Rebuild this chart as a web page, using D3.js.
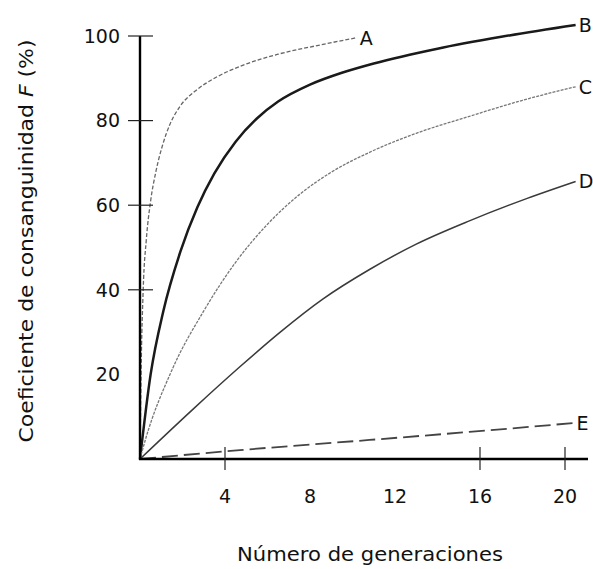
<!DOCTYPE html>
<html>
<head>
<meta charset="utf-8">
<script src="https://cdn.jsdelivr.net/npm/d3@7"></script>
<style>
  html, body { margin: 0; padding: 0; background: #fff; }
  svg text { font-family: "DejaVu Sans", sans-serif; fill: #111; }
</style>
</head>
<body>
<svg id="chart" width="593" height="569"></svg>
<script>
// ---- data: [generation, F %] ----
const seriesA = [[0,0],[0.05,20],[0.15,40],[0.3,52],[0.5,61],[0.75,68],[1.05,74],[1.4,79],[1.9,83.5],[2.6,87],[3.5,90],[4.8,93],[6.5,95.7],[8.5,97.9],[10.2,99.6]];
const seriesB = [[0,0],[0.5,20],[1.1,35],[1.9,49],[2.7,59.5],[3.5,67.5],[4.5,75],[5.5,80.5],[6.5,84.5],[8,88.5],[9.5,91.3],[11,93.5],[14,97],[17,99.8],[20.5,102.6]];
const seriesC = [[0,0],[0.25,4.5],[1.5,21],[3,35],[4.5,46.5],[6,55.5],[7.5,62.5],[9,67.8],[10.8,72.5],[13,77],[15.5,81],[18,84.8],[20.5,88]];
const seriesD = [[0,0],[2.5,11.8],[4.7,21.8],[6.6,30],[8.6,37.8],[10.8,44.8],[13,50.8],[15.5,56.3],[18,61.2],[20.5,65.6]];
const seriesE = [[0,0],[4.7,2.1],[10.8,4.5],[15.5,6.4],[20.4,8.5]];

const seriesNames = ['A', 'B', 'C', 'D', 'E'];
const xTickLabels = [4, 8, 12, 16, 20];
const xTickMarks  = [4, 16, 20];
const yTickLabels = [20, 40, 60, 80, 100];
const yTickMarks  = [40, 60, 80, 100];

// ---- layout ----
const svg = d3.select('#chart');
const x = d3.scaleLinear().domain([0, 20]).range([140, 565]);
const y = d3.scaleLinear().domain([0, 100]).range([459, 36]);

// line styles per curve
const styles = {
  A: { stroke: '#666', width: 1.3, dash: '4,2' },
  B: { stroke: '#1a1a1a', width: 2.5, dash: null },
  C: { stroke: '#777', width: 1.3, dash: '3,1.2' },
  D: { stroke: '#3a3a3a', width: 1.5, dash: null },
  E: { stroke: '#444', width: 1.8, dash: '16,6' }
};

const line = d3.line()
  .x(d => x(d[0]))
  .y(d => y(d[1]))
  .curve(d3.curveMonotoneX);

const allSeries = [seriesA, seriesB, seriesC, seriesD, seriesE];

allSeries.forEach((s, i) => {
  const name = seriesNames[i];
  const st = styles[name];
  svg.append('path')
    .datum(s)
    .attr('fill', 'none')
    .attr('stroke', st.stroke)
    .attr('stroke-width', st.width)
    .attr('stroke-dasharray', st.dash)
    .attr('d', line);

  const last = s[s.length - 1];
  svg.append('text')
    .attr('x', x(last[0]) + 3)
    .attr('y', y(last[1]))
    .attr('dy', '0.36em')
    .attr('font-size', 19)
    .text(name);
});

// ---- axes ----
svg.append('line')
  .attr('x1', x(0)).attr('x2', x(0))
  .attr('y1', y(0) + 1).attr('y2', y(100))
  .attr('stroke', '#000').attr('stroke-width', 2.4);

svg.append('line')
  .attr('x1', x(0) - 1).attr('x2', 588)
  .attr('y1', y(0)).attr('y2', y(0))
  .attr('stroke', '#000').attr('stroke-width', 2.4);

svg.selectAll('.ytick')
  .data(yTickMarks)
  .join('line')
  .attr('class', 'ytick')
  .attr('x1', x(0) - 12).attr('x2', x(0) + 13)
  .attr('y1', d => y(d)).attr('y2', d => y(d))
  .attr('stroke', '#222').attr('stroke-width', 1.2);

svg.selectAll('.xtick')
  .data(xTickMarks)
  .join('line')
  .attr('class', 'xtick')
  .attr('x1', d => x(d)).attr('x2', d => x(d))
  .attr('y1', y(0) - 12).attr('y2', y(0) + 11)
  .attr('stroke', '#222').attr('stroke-width', 1.2);

svg.selectAll('.ylab')
  .data(yTickLabels)
  .join('text')
  .attr('class', 'ylab')
  .attr('x', 120)
  .attr('y', d => y(d))
  .attr('dy', '0.36em')
  .attr('text-anchor', 'end')
  .attr('font-size', 19)
  .text(d => d);

svg.selectAll('.xlab')
  .data(xTickLabels)
  .join('text')
  .attr('class', 'xlab')
  .attr('x', d => x(d))
  .attr('y', 503)
  .attr('text-anchor', 'middle')
  .attr('font-size', 19)
  .text(d => d);

// ---- axis titles ----
svg.append('text')
  .attr('x', 370)
  .attr('y', 561)
  .attr('text-anchor', 'middle')
  .attr('font-size', 19)
  .attr('textLength', 266)
  .attr('lengthAdjust', 'spacingAndGlyphs')
  .text('Número de generaciones');

const yTitle = svg.append('text')
  .attr('transform', 'translate(33,241) rotate(-90)')
  .attr('text-anchor', 'middle')
  .attr('font-size', 19)
  .attr('textLength', 403)
  .attr('lengthAdjust', 'spacingAndGlyphs');
yTitle.append('tspan').text('Coeficiente de consanguinidad ');
yTitle.append('tspan').attr('font-style', 'italic').text('F');
yTitle.append('tspan').text(' (%)');
</script>
</body>
</html>
